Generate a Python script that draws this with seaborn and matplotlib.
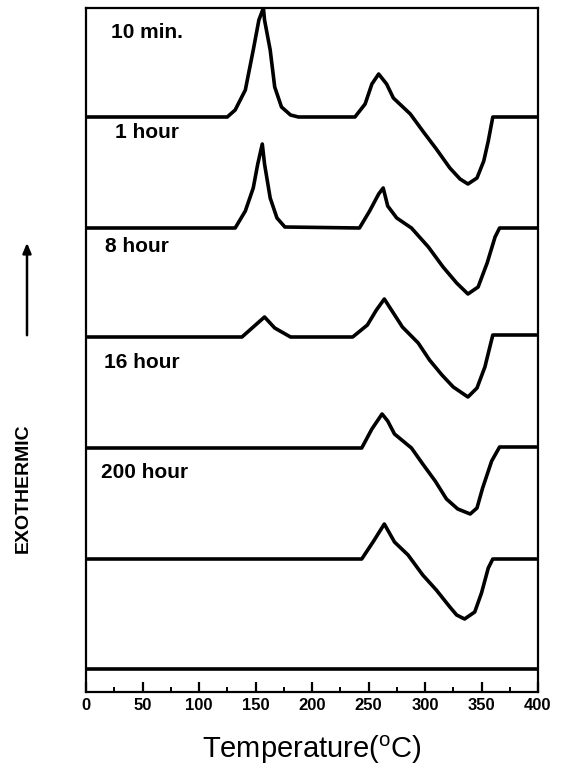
import matplotlib
matplotlib.use("Agg")
import matplotlib.pyplot as plt
from matplotlib.ticker import MultipleLocator
import seaborn as sns
import pandas as pd

sns.set_theme(style="white")
plt.rcParams['font.family'] = ['Liberation Sans', 'DejaVu Sans']
plt.rcParams['text.color'] = 'black'
plt.rcParams['axes.labelcolor'] = 'black'
plt.rcParams['xtick.color'] = 'black'

# ---- data (temperature in deg C, signal in arbitrary units relative to each baseline) ----
samples = ["10 min.", "1 hour", "8 hour", "16 hour", "200 hour", "ref"]
offsets = [575, 464, 355, 244, 133, 23]

t_10min = [0, 125, 132, 141, 148, 153, 157, 158, 163, 167, 173, 181, 188, 238, 247, 253, 259, 266, 272, 287,
           298, 310, 322, 331, 338, 346, 352, 356, 360, 400]
v_10min = [0, 0, 7, 27, 67, 97, 109, 97, 67, 30, 10, 2, 0, 0, 13, 33, 43, 33, 19, 3,
           -14, -32, -51, -62, -67, -61, -44, -24, 0, 0]

t_1h = [0, 132, 141, 148, 152, 156, 158, 163, 169, 176, 242, 251, 259, 263, 267, 275, 288, 303, 316,
        328, 338, 347, 355, 362, 366, 400]
v_1h = [0, 0, 17, 40, 64, 84, 64, 30, 10, 1, 0, 17, 34, 40, 22, 10, 0, -19, -39,
        -55, -66, -59, -35, -9, 0, 0]

t_8h = [0, 138, 148, 158, 167, 181, 236, 249, 257, 264, 272, 280, 294, 304, 315, 325, 338, 346, 353, 360, 400]
v_8h = [0, 0, 10, 20, 9, 0, 0, 12, 27, 38, 24, 10, -6, -23, -38, -50, -60, -51, -30, 2, 2]

t_16h = [0, 244, 253, 262, 267, 273, 288, 298, 309, 319, 329, 340, 346, 351, 359, 366, 400]
v_16h = [0, 0, 19, 34, 27, 14, 0, -16, -33, -51, -61, -66, -60, -40, -13, 1, 1]

t_200h = [0, 244, 254, 264, 273, 285, 298, 310, 322, 328, 335, 344, 350, 356, 360, 400]
v_200h = [0, 0, 17, 35, 17, 4, -16, -31, -48, -56, -60, -53, -34, -9, 0, 0]

t_ref = [0, 400]
v_ref = [0, 0]

label_text = ["10 min.", "1 hour", "8 hour", "16 hour", "200 hour"]
label_t = [22, 26, 17, 16, 13]
label_y = [660, 559, 445, 330, 220]

# ---- build long table ----
series_t = [t_10min, t_1h, t_8h, t_16h, t_200h, t_ref]
series_v = [v_10min, v_1h, v_8h, v_16h, v_200h, v_ref]
rows = []
for name, off, ts, vs in zip(samples, offsets, series_t, series_v):
    for i, (t, v) in enumerate(zip(ts, vs)):
        rows.append({"sample": name, "order": i, "T": t, "y": v + off})
df = pd.DataFrame(rows)

fig = plt.figure(figsize=(5.63, 7.67), dpi=100)
ax = fig.add_axes([86 / 563, 1 - 692 / 767, (538 - 86) / 563, (692 - 8) / 767])

sns.lineplot(data=df, x="T", y="y", units="sample", estimator=None, sort=False,
             color="black", linewidth=2.6, ax=ax, legend=False)
for ln in ax.get_lines():
    ln.set_solid_joinstyle("round")
    ln.set_solid_capstyle("round")

ax.set_xlim(0, 400)
ax.set_ylim(0, 684)
ax.set_yticks([])
ax.xaxis.set_major_locator(MultipleLocator(50))
ax.xaxis.set_minor_locator(MultipleLocator(25))
ax.tick_params(axis="x", which="major", direction="in", length=7, width=1.6, pad=4,
               labelsize=12, bottom=True, top=False)
ax.tick_params(axis="x", which="minor", direction="in", length=3.5, width=1.4, bottom=True, top=False)
for lab in ax.get_xticklabels():
    lab.set_fontweight("bold")
for s in ax.spines.values():
    s.set_linewidth(1.6)
    s.set_color("black")

ax.set_ylabel("")
ax.set_xlabel("Temperature($^{\\mathregular{o}}$C)", fontsize=21, labelpad=15)

for txt, t, y in zip(label_text, label_t, label_y):
    ax.text(t, y, txt, fontsize=15, fontweight="bold", ha="left", va="center")

fig.text(23 / 563, 1 - 488 / 767, "EXOTHERMIC", rotation=90, fontsize=14, fontweight="bold",
         ha="center", va="center")
fig.patches.append(matplotlib.patches.FancyArrowPatch(
    (27 / 563, 1 - 338 / 767), (27 / 563, 1 - 240 / 767), transform=fig.transFigure,
    arrowstyle="-|>,head_length=6,head_width=2.5", color="black", linewidth=1.8))

fig.savefig("out.png", dpi=100)
